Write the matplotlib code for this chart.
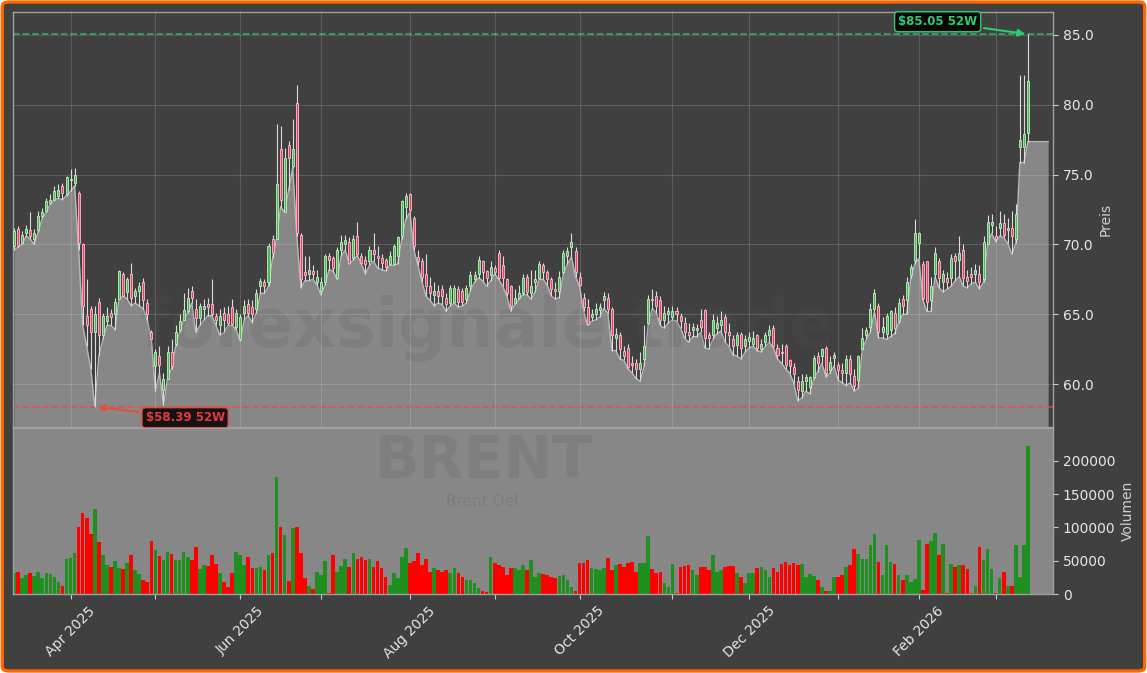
"""
Brent Oel daily candles with 52W high/low markers and volume panel (dark theme).
"""
import matplotlib
matplotlib.use("Agg")
import matplotlib.pyplot as plt
import numpy as np
import pandas as pd
from matplotlib.patches import FancyBboxPatch
from matplotlib.ticker import MultipleLocator
from pandas.tseries.offsets import CustomBusinessDay

START = "2025-03-12"
HOLIDAYS = ["2025-04-18", "2025-05-26", "2025-06-19", "2025-07-04", "2025-09-01",
            "2025-11-27", "2025-12-25", "2026-01-01", "2026-01-19", "2026-02-16"]

opens = [
    69.9, 71.1, 70.1, 70.8, 71.0, 70.4, 71.0, 72.0, 72.4, 73.0,
    73.2, 73.5, 74.2, 73.6, 74.6, 74.4, 73.7, 70.0, 64.9, 65.4,
    63.7, 65.9, 63.5, 64.5, 65.1, 65.0, 66.1, 67.9, 66.6, 67.9,
    66.3, 66.7, 67.3, 65.8, 63.7, 61.3, 62.0, 59.6, 60.4, 62.3,
    62.9, 63.9, 64.6, 65.2, 66.7, 65.4, 64.7, 65.4, 65.7, 65.7,
    64.9, 64.2, 65.1, 65.0, 65.5, 64.1, 63.2, 65.1, 65.7, 65.5,
    65.4, 67.0, 67.3, 67.3, 70.4,
    70.4, 76.8, 72.3, 77.1, 75.6, 80.1, 70.7, 68.0, 67.9, 68.1,
    67.3, 66.7, 67.3, 69.2, 69.0, 67.6, 69.6, 70.0, 70.2, 69.0,
    70.6, 69.2, 68.9, 68.8, 69.6, 69.2, 69.0, 68.9, 68.6, 68.6,
    69.2, 70.6, 72.7, 73.6, 71.9, 69.1, 68.8, 67.9, 67.0, 66.4,
    66.7, 66.8, 66.2, 65.8, 65.9, 66.8, 66.7, 66.1, 67.0, 67.5,
    67.9, 68.8, 68.1, 67.8, 68.3, 69.4, 68.5, 67.5, 67.0, 65.8,
    66.2, 66.5, 67.7, 66.5,
    67.3, 67.6, 68.5, 68.0, 67.5, 66.8, 66.7, 68.0, 69.2, 69.8,
    69.5, 67.7, 66.2, 65.5, 64.8, 65.0, 65.3, 66.0, 66.2, 65.4,
    63.3, 63.5, 62.4, 62.6, 61.5, 61.5, 61.1, 61.8, 64.4, 66.1,
    66.3, 66.0, 64.6, 65.0, 64.8, 65.2, 64.9, 64.4, 63.7, 63.9,
    63.9, 64.6, 65.3, 63.5, 63.5, 64.0, 64.2, 64.8, 63.7, 63.2,
    62.8, 63.6, 62.7, 63.1, 62.9, 63.5, 62.5, 63.0, 63.5, 64.0,
    62.6, 62.3, 62.7, 61.7, 61.2,
    60.2, 59.5, 60.2, 59.8, 60.5, 62.0, 62.0, 62.6, 61.0, 61.9,
    61.4, 61.0, 60.8, 61.8, 60.6, 60.3, 62.5, 63.5, 64.1, 65.4,
    65.6, 63.7, 63.6, 63.9, 65.1, 64.5, 66.1, 66.0, 67.8, 68.8,
    70.1, 68.6, 68.8, 66.0, 67.9, 68.8, 67.3, 67.6, 67.6, 69.2,
    68.9, 69.6, 67.7, 67.9, 67.9, 67.9, 67.5, 70.0, 71.4, 70.6,
    71.2, 71.5, 71.0, 71.2, 70.4, 77.0, 77.0, 78.0,
]

highs = [
    71.2, 71.3, 70.95, 71.4, 72.3, 71.1, 72.4, 72.6, 73.3, 73.6,
    74.2, 74.3, 74.4, 74.9, 75.4, 75.5, 73.8, 70.1, 67.5, 65.6,
    65.6, 66.2, 65.1, 65.5, 65.4, 66.2, 68.2, 68.0, 67.7, 68.7,
    66.9, 67.3, 67.6, 66.1, 63.9, 62.5, 62.7, 60.8, 62.7, 63.2,
    64.2, 65.0, 66.5, 66.9, 67.0, 66.1, 65.8, 66.1, 66.2, 67.5,
    65.1, 65.4, 65.5, 65.6, 66.1, 65.4, 65.0, 66.0, 66.1, 66.0,
    66.8, 67.6, 67.5, 70.1, 70.7,
    78.6, 78.5, 76.9, 77.4, 79.0, 81.4, 70.8, 69.2, 69.2, 68.5,
    68.2, 67.7, 69.3, 69.4, 69.2, 69.8, 70.7, 70.7, 70.5, 70.7,
    71.6, 69.4, 69.2, 69.9, 70.8, 69.9, 69.3, 69.0, 69.5, 70.0,
    70.6, 73.2, 73.7, 73.7, 72.0, 69.6, 69.0, 69.3, 67.7, 67.3,
    67.1, 67.1, 66.5, 67.1, 67.1, 67.0, 66.9, 67.1, 68.1, 68.1,
    69.2, 68.9, 68.2, 68.8, 68.5, 69.6, 69.2, 67.6, 67.1, 66.8,
    67.1, 67.9, 67.9, 68.2,
    68.2, 68.8, 68.7, 68.2, 67.7, 67.3, 68.1, 69.6, 69.8, 70.8,
    69.8, 68.0, 66.5, 66.1, 65.4, 65.8, 65.8, 66.6, 66.5, 65.5,
    64.0, 63.7, 62.7, 62.9, 62.0, 61.8, 62.3, 64.2, 66.4, 66.8,
    66.7, 66.3, 65.6, 65.5, 65.6, 65.5, 65.1, 64.8, 64.4, 64.4,
    64.3, 65.4, 65.4, 63.7, 65.0, 64.9, 65.2, 65.0, 64.4, 63.5,
    63.7, 63.7, 63.5, 63.7, 63.8, 63.6, 63.2, 63.7, 64.2, 64.2,
    62.9, 62.9, 62.9, 61.8, 61.5,
    60.6, 60.7, 60.7, 60.6, 62.1, 62.3, 62.6, 62.7, 62.0, 62.3,
    61.6, 61.5, 62.1, 62.1, 61.1, 62.1, 64.0, 64.1, 65.8, 66.8,
    65.8, 64.8, 65.1, 65.3, 65.5, 66.2, 66.4, 67.7, 68.6, 71.8,
    70.9, 68.8, 68.8, 67.7, 69.8, 69.0, 68.2, 68.0, 69.3, 69.4,
    70.6, 70.0, 68.2, 68.4, 68.6, 68.5, 70.6, 72.1, 72.2, 71.3,
    72.4, 72.2, 71.9, 72.4, 72.9, 82.1, 82.1, 85.05,
]

lows = [
    69.6, 69.8, 70.0, 70.6, 70.4, 70.0, 70.9, 71.9, 72.3, 72.9,
    73.2, 73.3, 73.2, 73.5, 73.8, 74.2, 69.6, 64.2, 62.7, 61.1,
    58.39, 62.0, 63.2, 64.2, 64.2, 63.9, 66.1, 66.3, 66.1, 65.6,
    65.8, 65.6, 65.4, 64.6, 63.2, 59.5, 60.8, 58.5, 60.4, 61.1,
    62.7, 63.7, 64.6, 65.1, 65.8, 63.7, 64.2, 64.6, 64.9, 64.9,
    64.2, 63.5, 63.7, 64.2, 64.2, 63.9, 63.1, 64.6, 64.9, 64.4,
    65.1, 66.5, 66.5, 67.0, 69.0,
    70.4, 72.7, 72.3, 73.9, 75.5, 70.6, 66.9, 67.4, 67.4, 67.5,
    67.1, 66.4, 67.1, 68.2, 68.1, 67.5, 69.2, 69.6, 68.6, 68.9,
    69.2, 68.6, 67.9, 68.5, 68.8, 68.3, 68.2, 68.1, 68.5, 68.5,
    68.6, 70.4, 71.8, 72.3, 69.6, 68.5, 67.3, 66.3, 66.0, 65.6,
    65.8, 65.7, 65.2, 65.6, 65.8, 65.5, 65.6, 65.8, 66.7, 67.3,
    67.6, 67.4, 67.0, 67.4, 67.9, 67.5, 67.0, 66.3, 65.2, 65.7,
    66.1, 66.4, 66.4, 66.1,
    66.6, 67.5, 67.5, 67.1, 66.3, 66.1, 66.2, 67.9, 68.6, 69.1,
    67.7, 67.0, 65.2, 64.2, 64.5, 64.6, 64.8, 65.4, 65.1, 62.4,
    62.4, 61.8, 61.7, 61.1, 60.8, 60.4, 60.2, 61.3, 64.3, 65.4,
    65.1, 64.2, 64.0, 64.4, 64.6, 64.5, 64.0, 63.3, 63.0, 63.4,
    63.4, 63.7, 62.6, 62.5, 63.2, 63.6, 63.8, 63.0, 62.7, 62.1,
    62.0, 61.8, 62.3, 62.6, 62.7, 62.4, 62.3, 62.7, 63.0, 62.6,
    61.8, 61.5, 61.1, 60.8, 60.1,
    58.8, 59.0, 59.5, 59.3, 60.4, 60.9, 61.5, 60.5, 60.8, 61.3,
    60.3, 60.1, 59.9, 60.1, 59.5, 59.7, 62.5, 63.2, 63.7, 65.2,
    63.3, 63.3, 63.2, 63.4, 63.6, 64.4, 65.0, 65.0, 67.6, 68.6,
    69.0, 66.0, 65.2, 65.2, 67.7, 66.9, 66.6, 66.8, 67.0, 67.4,
    67.7, 67.0, 66.9, 67.2, 67.3, 66.8, 67.3, 70.0, 70.8, 70.2,
    70.6, 70.5, 70.1, 69.3, 70.1, 75.86, 75.86, 77.36,
]

closes = [
    70.95, 69.9, 70.7, 71.1, 70.6, 70.8, 72.0, 72.3, 73.1, 73.2,
    73.8, 73.9, 73.7, 74.8, 74.7, 75.0, 70.1, 65.6, 64.2, 63.7,
    65.0, 63.5, 64.9, 64.9, 64.8, 65.9, 68.1, 66.3, 67.5, 66.2,
    66.7, 67.0, 66.0, 65.0, 63.2, 62.3, 61.4, 60.4, 62.3, 61.3,
    63.7, 64.5, 65.3, 66.2, 66.2, 64.7, 65.6, 65.6, 65.5, 65.0,
    64.6, 64.9, 64.6, 64.4, 64.3, 65.1, 64.8, 65.6, 65.1, 65.0,
    66.5, 67.4, 67.0, 69.9, 69.4,
    74.3, 73.2, 76.2, 76.2, 76.8, 70.8, 67.5, 67.8, 68.2, 67.9,
    67.7, 67.3, 69.2, 68.9, 68.3, 69.6, 70.2, 70.3, 68.7, 70.4,
    69.3, 68.7, 68.6, 69.6, 69.3, 69.0, 68.7, 68.4, 69.2, 69.9,
    70.5, 73.1, 73.5, 72.5, 69.9, 68.8, 67.7, 67.0, 66.5, 66.7,
    66.3, 66.3, 65.7, 66.9, 66.9, 65.9, 65.9, 66.9, 67.8, 67.8,
    68.9, 68.0, 67.6, 68.4, 68.0, 67.6, 67.6, 66.5, 65.6, 66.2,
    66.5, 67.6, 66.6, 67.0,
    67.5, 68.6, 68.0, 67.5, 66.8, 66.7, 67.7, 69.4, 69.5, 70.2,
    68.0, 67.1, 65.5, 64.3, 65.0, 65.4, 65.5, 66.3, 65.4, 63.5,
    63.6, 62.5, 62.0, 61.2, 61.4, 61.1, 61.5, 62.7, 66.1, 66.0,
    65.6, 64.6, 65.1, 65.2, 65.2, 65.0, 64.5, 63.7, 63.5, 64.1,
    64.0, 64.1, 63.3, 63.3, 64.6, 64.4, 64.6, 63.7, 63.5, 62.7,
    63.5, 62.6, 63.2, 63.4, 63.3, 62.6, 62.9, 63.5, 63.9, 62.7,
    62.1, 62.2, 61.4, 61.3, 60.7,
    59.6, 60.2, 60.5, 60.5, 61.9, 61.5, 62.5, 60.8, 61.6, 62.1,
    61.0, 60.8, 61.8, 60.7, 59.9, 62.0, 63.3, 63.9, 65.4, 66.5,
    63.7, 64.1, 64.9, 65.2, 64.0, 65.8, 65.6, 67.3, 68.4, 70.8,
    70.8, 66.2, 65.9, 67.0, 69.4, 67.6, 67.9, 67.3, 69.0, 68.8,
    69.4, 67.6, 67.4, 67.7, 68.2, 67.3, 70.2, 71.6, 71.6, 70.4,
    71.5, 70.7, 71.2, 70.6, 72.2, 77.5, 77.9, 81.7,
]

volumes = [
    31000, 33600, 24500, 28600, 32100, 27600, 33100, 24500, 32100, 29600,
    26100, 18500, 12000, 52600, 54600, 62100, 101200, 122200, 114700, 90200,
    127800, 78700, 58600, 43600, 40100, 50100, 38600, 37600, 46100, 58600,
    36100, 29600, 21000, 18500, 79700, 66100, 57100, 51100, 63100, 60100,
    51100, 51100, 63100, 56100, 51100, 71100, 37600, 43600, 42100, 58600,
    45100, 31100, 17500, 11000, 32100, 63100, 58600, 43600, 55100, 38600,
    38600, 40100, 36100, 58600, 61100,
    176400, 101200, 88700, 20000, 99700, 101200, 62100, 23500, 12000, 7000,
    33600, 28600, 49600, 2000, 58600, 33600, 42100, 52600, 41100, 62100,
    53100, 56100, 51100, 53100, 41100, 49600, 38600, 26100, 13000, 32100,
    23500, 56100, 68600, 46100, 49600, 62100, 43600, 52600, 33600, 38600,
    36100, 33600, 36100, 31100, 38600, 32100, 26100, 21000, 21000, 16000,
    9500, 5000, 3000, 56100, 46100, 43600, 41100, 28600, 38600, 38600,
    36100, 43600, 36100, 51100,
    26000, 32100, 30100, 28600, 26100, 23500, 27100, 28600, 21000, 11000,
    5000, 46100, 46100, 51100, 38600, 37600, 36100, 39600, 53600, 36100,
    43600, 45100, 41100, 47100, 48600, 33600, 46100, 46100, 87700, 37100,
    32100, 33600, 16000, 10000, 45100, 2000, 40100, 42100, 43600, 36100,
    28600, 41100, 41100, 36100, 58600, 33600, 36100, 40100, 42100, 42100,
    31100, 26100, 16000, 31100, 32100, 38600, 40100, 36100, 26100, 38600,
    33600, 44600, 48600, 43600, 46100,
    43100, 44800, 26300, 30800, 27400, 20700, 10600, 3900, 3900, 25200,
    25200, 28000, 40300, 43100, 68300, 59900, 52600, 52600, 73900, 90700,
    48700, 29100, 73900, 48700, 44800, 28000, 20700, 29100, 17900, 22400,
    80600, 5600, 75000, 79500, 92400, 58800, 75000, 1500, 44800, 40300,
    44200, 43100, 37500, 1500, 12300, 70000, 51500, 68300, 37500, 1500,
    23500, 33000, 12300, 12300, 73900, 26300, 73900, 222300,
]

HIGH_52W = 85.05
LOW_52W = 58.39

BG = "#404040"
FILL = "#878787"
TXT = "#e6e6e6"


def main():
    o = np.array(opens)
    h = np.array(highs)
    lo = np.array(lows)
    c = np.array(closes)
    v = np.array(volumes)
    x = np.arange(len(c))
    up = c >= o

    dates = pd.date_range(START, periods=len(c), freq=CustomBusinessDay(holidays=HOLIDAYS))

    fig = plt.figure(figsize=(11.47, 6.73), dpi=100)
    fig.patch.set_facecolor("white")
    frame = FancyBboxPatch((0.002, 0.003), 0.996, 0.994,
                           boxstyle="round,pad=0,rounding_size=0.006",
                           transform=fig.transFigure, facecolor=BG,
                           edgecolor="#ff6600", linewidth=2.4, zorder=-10)
    fig.add_artist(frame)

    ax = fig.add_axes([0.01133, 0.36553, 0.90671, 0.61664])
    axv = fig.add_axes([0.01133, 0.11738, 0.90671, 0.24666], sharex=ax)
    ax.set_facecolor(BG)
    axv.set_facecolor(FILL)

    ymin, ymax = 56.93, 86.64
    ax.set_ylim(ymin, ymax)
    ax.set_xlim(-0.25, x[-1] + 6.2)

    # area under the lows, kept flat a few bars past the last candle
    fx = np.append(x, x[-1] + 5)
    fl = np.append(lo, lo[-1])
    ax.fill_between(fx, fl, ymin, color=FILL, linewidth=0, zorder=1)
    ax.plot(fx, fl, color="#b9b9b9", lw=1.0, zorder=1.3)

    ax.text(0.457, 0.193, "forexsignale.trade", transform=ax.transAxes,
            fontsize=48, fontweight="bold", color="#555555", alpha=0.16,
            ha="center", va="baseline", zorder=1.6)

    # candles
    ax.vlines(x, lo, h, color="#dcdcdc", lw=0.8, zorder=3)
    bottom = np.minimum(o, c)
    height = np.maximum(np.abs(c - o), 0.06)
    ax.bar(x[up], height[up], bottom=bottom[up], width=0.5, color="#4dbb52",
           edgecolor="#c2efc3", linewidth=0.6, zorder=4)
    ax.bar(x[~up], height[~up], bottom=bottom[~up], width=0.5, color="#e54467",
           edgecolor="#f7c0cd", linewidth=0.6, zorder=4)

    # 52W lines and labels
    ax.axhline(HIGH_52W, color="#2ecc71", ls="--", lw=1.3, alpha=0.7, zorder=2)
    ax.axhline(LOW_52W, color="#e74c3c", ls="--", lw=1.3, alpha=0.7, zorder=2)
    i_hi = int(np.argmax(h))
    i_lo = int(np.argmin(lo))
    ax.annotate(f"${HIGH_52W:.2f} 52W", xy=(x[i_hi], HIGH_52W), xytext=(-65, 9),
                textcoords="offset points", ha="center", va="center",
                fontsize=8.5, fontweight="bold", color="#2ecc71", zorder=6,
                bbox=dict(boxstyle="round,pad=0.3", fc=(0, 0, 0, 0.85), ec="#2ecc71", lw=1),
                arrowprops=dict(arrowstyle="-|>", color="#2ecc71", lw=1.5, mutation_scale=10))
    ax.annotate(f"${LOW_52W:.2f} 52W", xy=(x[i_lo], LOW_52W), xytext=(65, -8),
                textcoords="offset points", ha="center", va="center",
                fontsize=8.5, fontweight="bold", color="#e8383d", zorder=6,
                bbox=dict(boxstyle="round,pad=0.3", fc=(0, 0, 0, 0.85), ec="#e74c3c", lw=1),
                arrowprops=dict(arrowstyle="-|>", color="#e74c3c", lw=1.5, mutation_scale=10))

    # volume
    axv.bar(x, v, width=0.9, color=np.where(up, "#1f8f1f", "#ff0000"), zorder=2)
    axv.set_ylim(0, 249600)
    axv.yaxis.set_major_locator(MultipleLocator(50000))
    axv.ticklabel_format(axis="y", style="plain")
    axv.text(0.453, 0.70, "BRENT", transform=axv.transAxes, fontsize=42,
             fontweight="bold", color="#555555", alpha=0.16, ha="center", va="baseline")
    axv.text(0.451, 0.53, "Brent Oel", transform=axv.transAxes, fontsize=11,
             color="#555555", alpha=0.22, ha="center", va="baseline")

    # month ticks, labels every second month
    ticks = [i for i in range(1, len(dates)) if dates[i].month != dates[i - 1].month]
    labels = [dates[i].strftime("%b %Y") if dates[i].month % 2 == 0 else "" for i in ticks]
    axv.set_xticks(ticks)
    axv.set_xticklabels(labels, rotation=45)

    ax.yaxis.set_major_locator(MultipleLocator(5))
    ax.yaxis.set_major_formatter(matplotlib.ticker.FormatStrFormatter("%.1f"))
    ax.grid(True, color="white", alpha=0.15, lw=0.8, zorder=1.5)
    ax.set_axisbelow(False)
    ax.tick_params(axis="x", length=0, labelbottom=False)

    for a, lab in ((ax, "Preis"), (axv, "Volumen")):
        a.yaxis.tick_right()
        a.yaxis.set_label_position("right")
        a.set_ylabel(lab, color="#cfcfcf", fontsize=10)
        a.tick_params(axis="y", colors="#cccccc", labelcolor=TXT, labelsize=10)
        for s in a.spines.values():
            s.set_color("#a0a0a0")
            s.set_linewidth(1.0)
    axv.tick_params(axis="x", colors="#cccccc", labelcolor=TXT, labelsize=10)

    fig.savefig("out.png", dpi=100, facecolor=fig.get_facecolor())
    plt.close(fig)


if __name__ == "__main__":
    main()
